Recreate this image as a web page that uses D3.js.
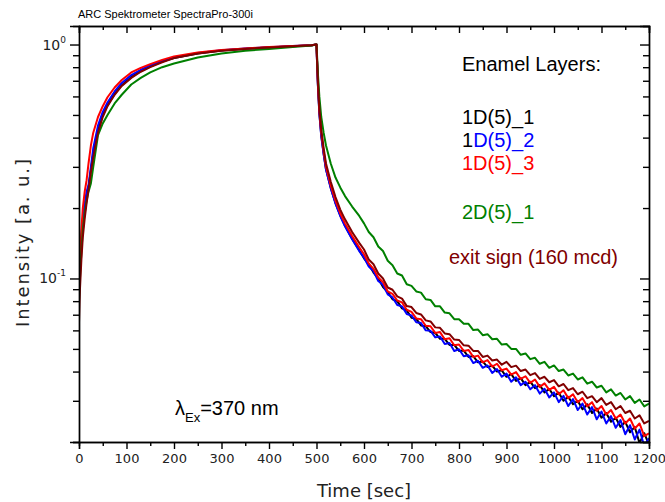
<!DOCTYPE html>
<html>
<head>
<meta charset="utf-8">
<script src="https://cdn.jsdelivr.net/npm/d3@7"></script>
<style>
  body { margin: 0; background: #fff; }
  svg { display: block; }
  .axis path, .axis line { stroke: #000; stroke-width: 1.4; }
  .axis text { font-family: "DejaVu Sans", sans-serif; font-size: 13px; fill: #222; }
</style>
</head>
<body>
<div id="chart"></div>
<script>
// time axis (sec), shared by all series
var timeSec = [0, 2, 5, 8, 12, 16, 20, 25, 30, 40, 50, 60, 75, 90, 110, 130, 150, 175, 200, 250, 300, 350, 400, 450, 490, 499,
  500, 501, 503, 506, 510, 515, 520, 530, 540, 550, 560, 575, 590,
  600, 610, 620, 630, 640, 650, 660, 670, 680, 690, 700, 710, 720, 730, 740, 750, 760, 770, 780, 790,
  800, 810, 820, 830, 840, 850, 860, 870, 880, 890, 900, 910, 920, 930, 940, 950, 960, 970, 980, 990,
  1000, 1010, 1020, 1030, 1040, 1050, 1060, 1070, 1080, 1090, 1100, 1110, 1120, 1130, 1140, 1150, 1160, 1170, 1180, 1190, 1200];

var layer1D5_1 = [0.090, 0.110, 0.140, 0.165, 0.195, 0.220, 0.245, 0.290, 0.340, 0.430, 0.500, 0.550, 0.615, 0.670, 0.725, 0.770, 0.805, 0.845, 0.875, 0.915, 0.942, 0.960, 0.972, 0.984, 0.992, 1.000,
  1.000, 0.860, 0.670, 0.510, 0.410, 0.342, 0.293, 0.244, 0.210, 0.186, 0.168, 0.148, 0.132,
  0.1220, 0.1150, 0.1060, 0.1000, 0.0920, 0.0875, 0.0815, 0.0800, 0.0745, 0.0730,
  0.0680, 0.0672, 0.0630, 0.0625, 0.0590, 0.0585, 0.0552, 0.0552, 0.0520, 0.0520,
  0.0490, 0.0492, 0.0462, 0.0466, 0.0438, 0.0442, 0.0418, 0.0424, 0.0400, 0.0405,
  0.0380, 0.0390, 0.0365, 0.0375, 0.0350, 0.0362, 0.0340, 0.0350, 0.0326, 0.0337,
  0.0314, 0.0325, 0.0300, 0.0312, 0.0290, 0.0300, 0.0276, 0.0290, 0.0266, 0.0278,
  0.0254, 0.0266, 0.0244, 0.0254, 0.0232, 0.0244, 0.0220, 0.0232, 0.0198, 0.0218, 0.0195];

var layer1D5_2 = [0.100, 0.120, 0.150, 0.180, 0.210, 0.235, 0.250, 0.300, 0.360, 0.450, 0.515, 0.565, 0.630, 0.685, 0.740, 0.780, 0.815, 0.850, 0.880, 0.920, 0.945, 0.962, 0.974, 0.985, 0.994, 1.000,
  1.000, 0.860, 0.665, 0.505, 0.405, 0.340, 0.292, 0.243, 0.209, 0.185, 0.167, 0.147, 0.131,
  0.1230, 0.1125, 0.1075, 0.0975, 0.0940, 0.0855, 0.0830, 0.0770, 0.0760, 0.0705,
  0.0695, 0.0650, 0.0645, 0.0600, 0.0598, 0.0560, 0.0565, 0.0525, 0.0530, 0.0490,
  0.0498, 0.0465, 0.0470, 0.0435, 0.0445, 0.0415, 0.0425, 0.0395, 0.0410, 0.0380,
  0.0392, 0.0362, 0.0378, 0.0350, 0.0362, 0.0336, 0.0350, 0.0322, 0.0338, 0.0310,
  0.0326, 0.0296, 0.0315, 0.0285, 0.0305, 0.0274, 0.0292, 0.0262, 0.0282, 0.0250,
  0.0270, 0.0240, 0.0258, 0.0230, 0.0248, 0.0216, 0.0236, 0.0205, 0.0226, 0.0192, 0.0208];

var layer1D5_3 = [0.085, 0.120, 0.160, 0.200, 0.235, 0.263, 0.310, 0.370, 0.420, 0.490, 0.545, 0.595, 0.655, 0.705, 0.760, 0.795, 0.825, 0.860, 0.890, 0.925, 0.948, 0.962, 0.975, 0.985, 0.993, 1.000,
  1.000, 0.870, 0.680, 0.520, 0.420, 0.350, 0.300, 0.250, 0.215, 0.190, 0.172, 0.152, 0.136,
  0.1270, 0.1160, 0.1100, 0.1010, 0.0965, 0.0880, 0.0860, 0.0805, 0.0790, 0.0735,
  0.0720, 0.0675, 0.0670, 0.0628, 0.0625, 0.0585, 0.0590, 0.0550, 0.0555, 0.0518,
  0.0522, 0.0490, 0.0495, 0.0462, 0.0468, 0.0438, 0.0448, 0.0420, 0.0432, 0.0405,
  0.0412, 0.0388, 0.0398, 0.0372, 0.0382, 0.0358, 0.0370, 0.0344, 0.0356, 0.0334,
  0.0344, 0.0320, 0.0333, 0.0308, 0.0320, 0.0296, 0.0308, 0.0284, 0.0296, 0.0272,
  0.0285, 0.0262, 0.0274, 0.0252, 0.0262, 0.0240, 0.0252, 0.0228, 0.0240, 0.0212, 0.0218];

var layer2D5_1 = [0.080, 0.100, 0.130, 0.160, 0.190, 0.215, 0.235, 0.255, 0.300, 0.410, 0.460, 0.500, 0.560, 0.610, 0.675, 0.720, 0.760, 0.800, 0.830, 0.880, 0.915, 0.940, 0.958, 0.976, 0.990, 1.000,
  1.000, 0.910, 0.750, 0.600, 0.490, 0.420, 0.370, 0.310, 0.270, 0.245, 0.225, 0.203, 0.185,
  0.1720, 0.1580, 0.1500, 0.1370, 0.1310, 0.1190, 0.1140, 0.1050, 0.1030, 0.0945,
  0.0930, 0.0880, 0.0870, 0.0815, 0.0810, 0.0760, 0.0760, 0.0715, 0.0710, 0.0670,
  0.0670, 0.0640, 0.0640, 0.0602, 0.0605, 0.0572, 0.0578, 0.0550, 0.0552, 0.0522,
  0.0525, 0.0500, 0.0500, 0.0472, 0.0478, 0.0452, 0.0458, 0.0432, 0.0440, 0.0415,
  0.0425, 0.0402, 0.0408, 0.0385, 0.0392, 0.0370, 0.0378, 0.0355, 0.0362, 0.0342,
  0.0348, 0.0326, 0.0336, 0.0316, 0.0324, 0.0304, 0.0314, 0.0294, 0.0304, 0.0284, 0.0292];

var exitSign = [0.065, 0.090, 0.120, 0.150, 0.180, 0.210, 0.240, 0.285, 0.330, 0.420, 0.490, 0.545, 0.610, 0.665, 0.720, 0.765, 0.800, 0.840, 0.875, 0.915, 0.940, 0.958, 0.972, 0.984, 0.992, 1.000,
  1.000, 0.880, 0.700, 0.535, 0.432, 0.362, 0.310, 0.259, 0.223, 0.197, 0.179, 0.158, 0.142,
  0.1330, 0.1205, 0.1150, 0.1050, 0.1000, 0.0915, 0.0895, 0.0838, 0.0820, 0.0762,
  0.0755, 0.0712, 0.0702, 0.0662, 0.0655, 0.0618, 0.0615, 0.0582, 0.0578, 0.0548,
  0.0546, 0.0518, 0.0516, 0.0490, 0.0490, 0.0462, 0.0468, 0.0446, 0.0450, 0.0428,
  0.0440, 0.0418, 0.0424, 0.0402, 0.0408, 0.0386, 0.0394, 0.0372, 0.0380, 0.0360,
  0.0368, 0.0346, 0.0354, 0.0333, 0.0340, 0.0320, 0.0328, 0.0308, 0.0314, 0.0296,
  0.0308, 0.0288, 0.0296, 0.0276, 0.0285, 0.0266, 0.0272, 0.0252, 0.0260, 0.0240, 0.0246];

var xMajorTicks = [0, 100, 200, 300, 400, 500, 600, 700, 800, 900, 1000, 1100, 1200];
var xMinorTicks = [50, 150, 250, 350, 450, 550, 650, 750, 850, 950, 1050, 1150];
var yMajorTicks = [0.1, 1];
var yMajorLabels = ["-1", "0"];
var yMinorTicks = [0.02, 0.03, 0.04, 0.05, 0.06, 0.07, 0.08, 0.09, 0.2, 0.3, 0.4, 0.5, 0.6, 0.7, 0.8, 0.9];

var seriesNames = ["1D(5)_1", "1D(5)_2", "1D(5)_3", "2D(5)_1", "exit sign (160 mcd)"];
var seriesColors = ["#000000", "#0000ff", "#ff0000", "#008000", "#800000"];
var seriesValues = [layer1D5_1, layer1D5_2, layer1D5_3, layer2D5_1, exitSign];

var drawChart = function() {
  var W = 665, H = 502;
  var margin = {left: 79, right: 649, top: 26, bottom: 442};

  var svg = d3.select("#chart").append("svg")
      .attr("width", W)
      .attr("height", H);

  var x = d3.scaleLinear().domain([0, 1200]).range([margin.left, margin.right]);
  var y = d3.scaleLog().domain([0.02, 1.2]).range([margin.bottom, margin.top]);

  svg.append("defs").append("clipPath").attr("id", "plotclip")
    .append("rect")
      .attr("x", margin.left).attr("y", margin.top)
      .attr("width", margin.right - margin.left).attr("height", margin.bottom - margin.top);

  // curves
  var line = d3.line()
      .x(function(d) { return x(d.t); })
      .y(function(d) { return y(d.v); });

  var plot = svg.append("g").attr("clip-path", "url(#plotclip)");
  seriesValues.forEach(function(vals, i) {
    var pts = timeSec.map(function(t, j) { return {t: t, v: vals[j]}; });
    plot.append("path")
        .datum(pts)
        .attr("fill", "none")
        .attr("stroke", seriesColors[i])
        .attr("stroke-width", 2)
        .attr("stroke-linejoin", "round")
        .attr("d", line);
  });

  // bottom axis
  svg.append("g").attr("class", "axis")
      .attr("transform", "translate(0," + margin.bottom + ")")
      .call(d3.axisBottom(x).tickValues(xMajorTicks).tickSize(7).tickPadding(5).tickFormat(d3.format("d")));
  svg.append("g").attr("class", "axis")
      .attr("transform", "translate(0," + margin.bottom + ")")
      .call(d3.axisBottom(x).tickValues(xMinorTicks).tickSize(4).tickFormat(""));

  // top axis (ticks inward)
  svg.append("g").attr("class", "axis")
      .attr("transform", "translate(0," + margin.top + ")")
      .call(d3.axisTop(x).tickValues(xMajorTicks).tickSize(-7).tickFormat(""));
  svg.append("g").attr("class", "axis")
      .attr("transform", "translate(0," + margin.top + ")")
      .call(d3.axisTop(x).tickValues(xMinorTicks).tickSize(-4).tickFormat(""));

  // left axis
  svg.append("g").attr("class", "axis")
      .attr("transform", "translate(" + margin.left + ",0)")
      .call(d3.axisLeft(y).tickValues(yMajorTicks).tickSize(9).tickFormat(""));
  svg.append("g").attr("class", "axis")
      .attr("transform", "translate(" + margin.left + ",0)")
      .call(d3.axisLeft(y).tickValues(yMinorTicks).tickSize(6).tickFormat(""));

  // right axis (ticks inward)
  svg.append("g").attr("class", "axis")
      .attr("transform", "translate(" + margin.right + ",0)")
      .call(d3.axisRight(y).tickValues(yMajorTicks).tickSize(-9).tickFormat(""));
  svg.append("g").attr("class", "axis")
      .attr("transform", "translate(" + margin.right + ",0)")
      .call(d3.axisRight(y).tickValues(yMinorTicks).tickSize(-6).tickFormat(""));

  svg.selectAll(".axis path.domain").attr("stroke-width", 1.6);

  // y labels 10^n
  yMajorTicks.forEach(function(v, i) {
    var t = svg.append("text")
        .attr("x", 66)
        .attr("y", y(v) + 5)
        .attr("text-anchor", "end")
        .style("font-family", "DejaVu Sans, sans-serif")
        .style("font-size", "14px")
        .style("fill", "#222");
    t.append("tspan").text("10");
    t.append("tspan").attr("dy", -7).style("font-size", "9px").text(yMajorLabels[i]);
  });

  // axis titles
  svg.append("text")
      .attr("x", (margin.left + margin.right) / 2)
      .attr("y", 497)
      .attr("text-anchor", "middle")
      .style("font-family", "DejaVu Sans, sans-serif")
      .style("font-size", "18px")
      .style("fill", "#222")
      .text("Time [sec]");

  svg.append("text")
      .attr("transform", "translate(29,243) rotate(-90)")
      .attr("text-anchor", "middle")
      .attr("textLength", 168)
      .attr("lengthAdjust", "spacing")
      .style("font-family", "DejaVu Sans, sans-serif")
      .style("font-size", "18px")
      .style("fill", "#222")
      .text("Intensity [a. u.]");

  // title
  svg.append("text")
      .attr("x", 78)
      .attr("y", 18)
      .style("font-family", "Liberation Sans, Arial, sans-serif")
      .style("font-size", "11px")
      .text("ARC Spektrometer SpectraPro-300i");

  // legend
  var lg = svg.append("g")
      .style("font-family", "Liberation Sans, Arial, sans-serif")
      .style("font-size", "20px");

  lg.append("text").attr("x", 462).attr("y", 71).text("Enamel Layers:");
  lg.append("text").attr("x", 462).attr("y", 124).attr("fill", seriesColors[0]).text(seriesNames[0]);
  var l2 = lg.append("text").attr("x", 462).attr("y", 147);
  l2.append("tspan").attr("fill", "#000").text(seriesNames[1].slice(0, 1));
  l2.append("tspan").attr("fill", seriesColors[1]).text(seriesNames[1].slice(1));
  lg.append("text").attr("x", 462).attr("y", 170).attr("fill", seriesColors[2]).text(seriesNames[2]);
  lg.append("text").attr("x", 462).attr("y", 219).attr("fill", seriesColors[3]).text(seriesNames[3]);
  lg.append("text").attr("x", 449).attr("y", 264).attr("fill", seriesColors[4]).text(seriesNames[4]);

  // excitation wavelength
  var ex = svg.append("text")
      .attr("x", 175)
      .attr("y", 415)
      .style("font-family", "Liberation Sans, Arial, sans-serif")
      .style("font-size", "20px");
  ex.append("tspan").text("\u03bb");
  ex.append("tspan").attr("dy", 7).style("font-size", "13px").text("Ex");
  ex.append("tspan").attr("dy", -7).text("=370 nm");
};

drawChart();
</script>
</body>
</html>
